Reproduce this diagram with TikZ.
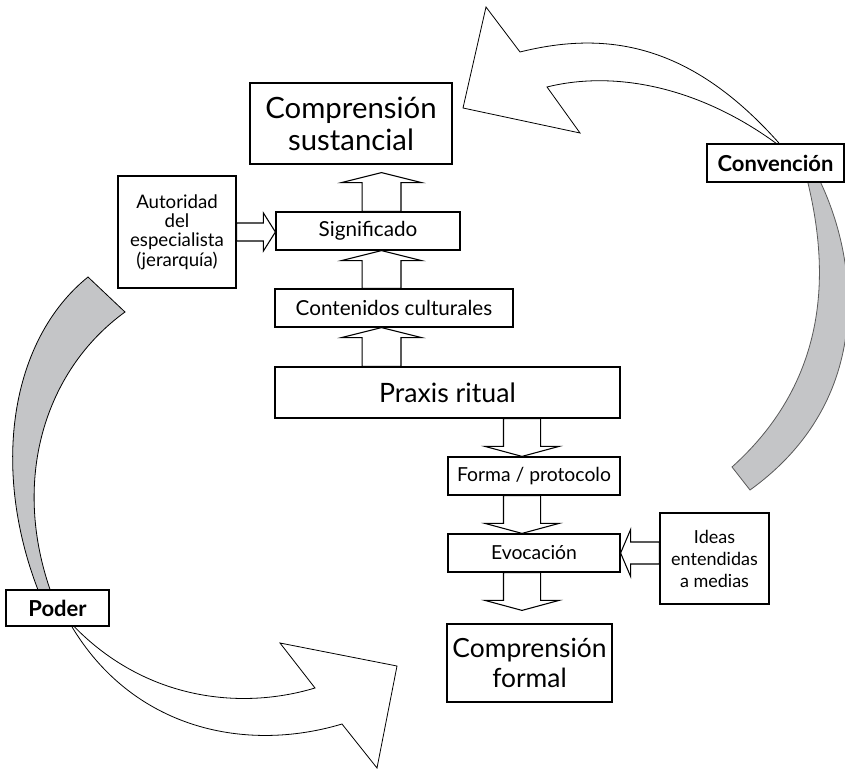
\documentclass[tikz,border=0pt]{standalone}
\usepackage{fontspec}
\setmainfont{Lato}
\usetikzlibrary{calc}
\definecolor{bandgray}{RGB}{196,197,199}
\tikzset{
  box/.style={draw, fill=white, line width=0.9pt, inner sep=0pt, align=center},
  bigtext/.style={font=\fontsize{22}{24}\selectfont},
  formaltext/.style={font=\fontsize{19.8}{23}\selectfont},
  praxtext/.style={font=\fontsize{20}{24}\selectfont},
  smalltext/.style={font=\fontsize{15.5}{18}\selectfont},
  midtext/.style={font=\fontsize{14.5}{17}\selectfont},
  auttext/.style={font=\fontsize{14}{14.5}\selectfont},
  ideastext/.style={font=\fontsize{13.5}{16.5}\selectfont},
  boldtext/.style={font=\bfseries\fontsize{16.5}{19}\selectfont},
  curvearrow/.style={draw, fill=white, line width=0.6pt, line join=miter},
  band/.style={draw, fill=bandgray, line width=0.6pt},
  barrow/.style n args={3}{draw, fill=white, line width=0.8pt, line join=miter, to path={
    let \p1=($(\tikztotarget)-(\tikztostart)$), \n1={veclen(\x1,\y1)}, \n2={atan2(\y1,\x1)} in
    ([shift={(\tikztostart)},rotate=\n2]0pt,#1)
    -- ([shift={(\tikztostart)},rotate=\n2]{\n1*1pt-#3},#1)
    -- ([shift={(\tikztostart)},rotate=\n2]{\n1*1pt-#3},#2)
    -- ([shift={(\tikztostart)},rotate=\n2]{\n1*1pt},0pt)
    -- ([shift={(\tikztostart)},rotate=\n2]{\n1*1pt-#3},-#2)
    -- ([shift={(\tikztostart)},rotate=\n2]{\n1*1pt-#3},-#1)
    -- ([shift={(\tikztostart)},rotate=\n2]0pt,-#1) -- cycle}},
  uparr/.style={barrow={14.6pt}{30pt}{7.5pt}},
  downarr/.style={barrow={13.9pt}{27.75pt}{7.5pt}},
  rightarr/.style={barrow={6.75pt}{14.25pt}{9pt}},
  leftarr/.style={barrow={8.25pt}{17.6pt}{7.5pt}},
}
\begin{document}
\begin{tikzpicture}[x=0.75pt,y=-0.75pt]
\clip (0,0) rectangle (845,770);

% big curved arrows and bands
\draw[band, draw=black!65] (806,175) .. controls (825,250) and (840,370) .. (732,467)
  -- (750,490) .. controls (875,400) and (860,260) .. (817,175) -- cycle;
\draw[band] (125,312) -- (88,277) .. controls (10,340) and (-10,470) .. (40,595)
  -- (52,595) .. controls (10,480) and (45,370) .. (125,312) -- cycle;
\draw[curvearrow] (785,150) .. controls (695,45) and (610,29.5) .. (520,52)
  -- (486,7) -- (463,108) -- (580,133) -- (547,87)
  .. controls (617,69.5) and (705,88) .. (785,150) -- cycle;
\draw[curvearrow] (68,620) .. controls (138,697) and (235,712) .. (315,688)
  -- (280,643) -- (397,666) -- (377,768) -- (342,724)
  .. controls (242,754) and (128,727) .. (68,620) -- cycle;

% boxes
\node[box, bigtext, minimum width=151.5pt, minimum height=60.75pt] (cs) at (351,123.5) {Comprensión\\sustancial};
\node[box, auttext, minimum width=88.5pt, minimum height=84pt] (aut) at (177,232) {Autoridad\\del\\especialista\\(jerarquía)};
\node[box, smalltext, minimum width=138pt, minimum height=28.5pt] (sig) at (368,231) {Significado};
\node[box, smalltext, minimum width=178.5pt, minimum height=28.5pt] (cont) at (394,308) {Contenidos culturales};
\node[box, praxtext, minimum width=258.75pt, minimum height=38.25pt] (prax) at (447.5,392.5) {Praxis ritual};
\node[box, midtext, minimum width=129pt, minimum height=28.5pt] (forma) at (534,476) {Forma / protocolo};
\node[box, midtext, minimum width=129pt, minimum height=28.5pt] (evo) at (534,553) {Evocación};
\node[box, ideastext, minimum width=81.75pt, minimum height=68.25pt] (ideas) at (714.5,558.5) {Ideas\\entendidas\\a medias};
\node[box, formaltext, minimum width=123.75pt, minimum height=58.5pt] (cf) at (529.5,663) {Comprensión\\formal};
\node[box, boldtext, minimum width=102.75pt, minimum height=28.5pt] (conv) at (775.5,163) {Convención};
\node[box, boldtext, minimum width=77.25pt, minimum height=27pt] (poder) at (57.5,608) {Poder};

% arrow axes and free tips
\coordinate (upaxis) at (381.5,0);
\coordinate (downaxis) at (522,0);
\coordinate (cstip) at ($(cs.south -| upaxis)+(0,8)$);
\coordinate (cftip) at ($(cf.north -| downaxis)+(0,-13)$);

% block arrows
\draw[uparr] (prax.north -| upaxis) to (cont.south -| upaxis);
\draw[uparr] (cont.north -| upaxis) to (sig.south -| upaxis);
\draw[uparr] (sig.north -| upaxis) to (cstip);
\draw[downarr] (prax.south -| downaxis) to (forma.north -| downaxis);
\draw[downarr] (forma.south -| downaxis) to (evo.north -| downaxis);
\draw[downarr] (evo.south -| downaxis) to (cftip);
\draw[rightarr] (aut.east) to (sig.west |- aut.east);
\draw[leftarr] (ideas.west |- evo.east) to (evo.east);
\end{tikzpicture}
\end{document}
